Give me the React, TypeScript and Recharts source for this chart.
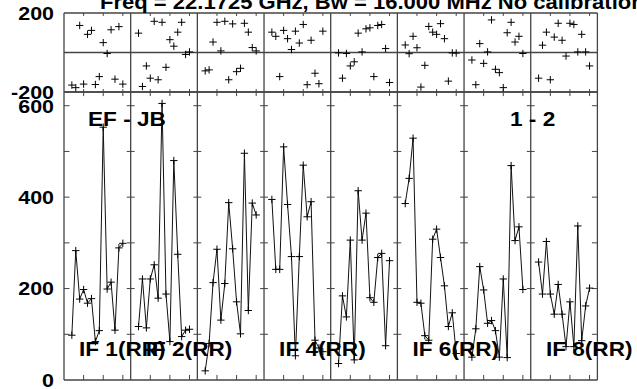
import React from 'react';
import { ComposedChart, Line, Scatter, XAxis, YAxis, ReferenceLine } from 'recharts';

// channels plotted in every IF (edge channels 1 and 16 are dropped)
const channels = [2, 3, 4, 5, 6, 7, 8, 9, 10, 11, 12, 13, 14, 15];

const ampIF1 = [98, 283, 177, 198, 168, 178, 84, 108, 553, 199, 214, 109, 289, 299];
const ampIF2 = [117, 221, 114, 221, 252, 179, 605, 188, 84, 480, 275, 95, 109, 111];
const ampIF3 = [20, 80, 213, 286, 131, 211, 388, 287, 171, 101, 496, 152, 387, 361];
const ampIF4 = [395, 242, 242, 510, 384, 270, 53, 270, 470, 357, 390, 87, 70, 62];
const ampIF5 = [36, 184, 138, 306, 44, 414, 306, 365, 180, 170, 268, 277, 75, 261];
const ampIF6 = [386, 441, 529, 170, 168, 97, 87, 308, 330, 268, 206, 117, 147, 58];
const ampIF7 = [50, 112, 248, 197, 124, 130, 108, 50, 221, 49, 469, 305, 335, 198];
const ampIF8 = [258, 188, 303, 188, 144, 209, 144, 73, 171, 73, 337, 86, 162, 201];

const phaseIF1 = [-165, -178, 137, -160, 92, 112, -162, -122, 50, -5, 115, -135, 131, -160];
const phaseIF2 = [98, -172, -68, -130, 158, -138, 153, -75, 65, 32, 103, 153, -10, 3];
const phaseIF3 = [-93, -88, 53, 153, 8, 158, -138, 145, -97, -80, 148, 103, 25, 8];
const phaseIF4 = [103, 82, -122, 112, 70, 15, 108, 48, 142, -163, 62, -105, -158, 108];
const phaseIF5 = [-2, -130, -5, -68, -47, 98, 3, 120, 125, -122, 137, 142, 20, -152];
const phaseIF6 = [38, -6, 82, 24, -175, -65, 132, 103, 92, 146, 70, -145, -2, -3];
const phaseIF7 = [-38, -163, 45, -55, 3, 165, -85, -102, -178, 100, 153, 53, 82, -5];
const phaseIF8 = [-130, 37, 103, -138, 78, 148, 62, -18, 148, 142, 3, 92, 3, -68];

const labelledIFs = [1, 2, 4, 6, 8];
const ampTicks = [0, 200, 400, 600];
const ampMinorTicks = [100, 200, 300, 400, 500, 600];
const phaseTicks = [-200, 200];
const chanTicks = [5, 10, 15];

const title = 'Freq = 22.1725 GHz, Bw = 16.000 MHz  No calibration';
const baselineLabel = 'EF - JB';
const stokesLabel = '1 - 2';

const SLOT = 17;
const AMP_MAX = 630;
const ampByIF = [ampIF1, ampIF2, ampIF3, ampIF4, ampIF5, ampIF6, ampIF7, ampIF8];
const phaseByIF = [phaseIF1, phaseIF2, phaseIF3, phaseIF4, phaseIF5, phaseIF6, phaseIF7, phaseIF8];
const nIF = ampByIF.length;
const xMax = nIF * SLOT;

const ampSeries = ampByIF.map((amps, i) =>
  channels.map((ch, k) => ({ x: i * SLOT + ch, y: amps[k] }))
);
const phasePoints = phaseByIF.flatMap((ph, i) =>
  channels.map((ch, k) => ({ x: i * SLOT + ch, y: ph[k] }))
);
const xTicks = ampByIF.flatMap((_, i) => chanTicks.map(t => i * SLOT + t));
const dividers = Array.from({ length: nIF + 1 }, (_, i) => i * SLOT);

const FRAME = '#444';
const FONT = '"Liberation Sans", Arial, sans-serif';
const SX = 1.13;

const renderPlus = (p: any) => {
  if (p.cx == null || p.cy == null) return <g key={`n-${p.index}`} />;
  const r = 3.7;
  return (
    <path
      key={`p-${p.index}-${p.cx}`}
      d={`M${p.cx - r},${p.cy}H${p.cx + r}M${p.cx},${p.cy - r}V${p.cy + r}`}
      stroke="#000"
      strokeWidth={1}
      fill="none"
    />
  );
};

const AxisTick = (props: any) => {
  const { x, y, payload } = props;
  return (
    <text
      transform={`translate(${x} ${y}) scale(${SX} 1)`}
      dy="0.36em"
      textAnchor="end"
      fontFamily={FONT}
      fontWeight="bold"
      fontSize={19}
      fill="#000"
    >
      {payload.value}
    </text>
  );
};

const Label = ({ x, y, text, size = 20 }: { x: number; y: number; text: string; size?: number }) => (
  <text
    transform={`translate(${x} ${y}) scale(${SX} 1)`}
    fontFamily={FONT}
    fontWeight="bold"
    fontSize={size}
    fill="#000"
  >
    {text}
  </text>
);

// small horizontal ticks on every IF divider
function dividerTicks(yVals: number[]) {
  return dividers.flatMap(d =>
    yVals.map(v => ({
      a: d === 0 ? 0 : d === xMax ? xMax - 1.4 : d - 1,
      b: d === 0 ? 1.4 : d === xMax ? xMax : d + 1,
      y: v,
    }))
  );
}

function frame(yLo: number, yHi: number, tickLo: number, tickHi: number, ySegs: { a: number; b: number; y: number }[]) {
  return [
    ...dividers.map(d => <ReferenceLine key={`d${d}`} x={d} stroke={FRAME} strokeWidth={1.3} />),
    <ReferenceLine key="lo" y={yLo} stroke={FRAME} strokeWidth={1.3} />,
    <ReferenceLine key="hi" y={yHi} stroke={FRAME} strokeWidth={1.3} />,
    ...xTicks.map(t => (
      <ReferenceLine key={`tb${t}`} segment={[{ x: t, y: yLo }, { x: t, y: yLo + tickLo }]} stroke={FRAME} />
    )),
    ...xTicks.map(t => (
      <ReferenceLine key={`tt${t}`} segment={[{ x: t, y: yHi }, { x: t, y: yHi - tickHi }]} stroke={FRAME} />
    )),
    ...ySegs.map((s, i) => (
      <ReferenceLine key={`s${i}`} segment={[{ x: s.a, y: s.y }, { x: s.b, y: s.y }]} stroke={FRAME} />
    )),
  ];
}

export default function App() {
  return (
    <div style={{ position: 'absolute', left: 0, top: 0, width: 637, height: 389, overflow: 'hidden', background: '#fff' }}>
      {/* amplitude panels */}
      <div style={{ position: 'absolute', left: 0, top: 0 }}>
        <ComposedChart width={637} height={389} margin={{ top: 92, right: 39.6, bottom: 9, left: 0 }}>
          <XAxis type="number" dataKey="x" domain={[0, xMax]} ticks={xTicks} hide allowDataOverflow />
          <YAxis type="number" domain={[0, AMP_MAX]} ticks={ampTicks} interval={0} width={64} axisLine={false}
            tickLine={false} tickSize={6} tickMargin={4} tick={<AxisTick />} allowDataOverflow />
          {frame(0, AMP_MAX, 11, 9, dividerTicks(ampMinorTicks))}
          {ampSeries.map((data, i) => (
            <Line key={`a${i}`} data={data} dataKey="y" type="linear" stroke="#111" strokeWidth={1}
              dot={renderPlus} activeDot={false} isAnimationActive={false} />
          ))}
        </ComposedChart>
      </div>

      {/* phase panels */}
      <div style={{ position: 'absolute', left: 0, top: 0 }}>
        <ComposedChart width={637} height={100} margin={{ top: 13, right: 39.6, bottom: 8, left: 0 }}>
          <XAxis type="number" dataKey="x" domain={[0, xMax]} ticks={xTicks} hide allowDataOverflow />
          <YAxis type="number" domain={[-200, 200]} ticks={phaseTicks} interval={0} width={64} axisLine={false}
            tickLine={false} tickSize={6} tickMargin={4} tick={<AxisTick />} allowDataOverflow />
          {frame(-200, 200, 15, 15, [])}
          <ReferenceLine y={0} stroke={FRAME} strokeWidth={1.3} />
          <Scatter data={phasePoints} dataKey="y" shape={renderPlus} isAnimationActive={false} />
        </ComposedChart>
      </div>

      {/* text overlay */}
      <svg width={637} height={389} style={{ position: 'absolute', left: 0, top: 0, pointerEvents: 'none' }}>
        <Label x={100} y={8.5} text={title} size={19.5} />
        <Label x={88} y={125.5} text={baselineLabel} />
        <Label x={510} y={125.5} text={stokesLabel} />
        {labelledIFs.map(n => (
          <Label key={n} x={79 + (n - 1) * 66.7} y={356} text={`IF ${n}(RR)`} />
        ))}
      </svg>
    </div>
  );
}
